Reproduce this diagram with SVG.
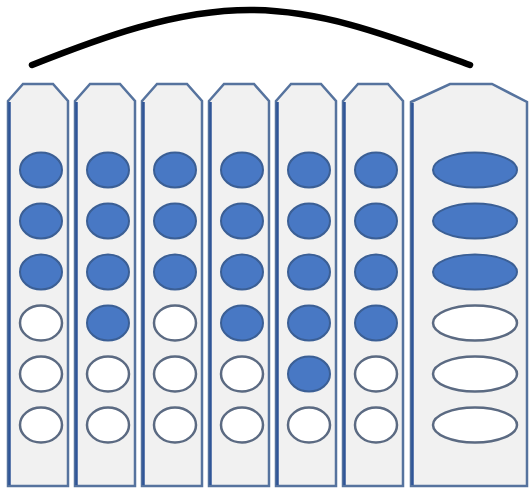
<svg xmlns="http://www.w3.org/2000/svg" width="531" height="490" viewBox="0 0 531 490">
<style>
.col{fill:#f1f1f1;stroke:#56739e;stroke-width:2.5;stroke-linejoin:miter}
.edge{stroke:#2f5597;stroke-width:2.5;fill:none}
.f{fill:#4878c4;stroke:#3b5f95;stroke-width:2}
.e{fill:#ffffff;stroke:#5b6a82;stroke-width:2.5}
</style>
<rect width="531" height="490" fill="#ffffff"/>
<g id="connectors">
<path d="M32,65 C100,38 175,10 250,10 C325,10 395,38 470,65" fill="none" stroke="#000" stroke-width="6.5" stroke-linecap="round"/>
</g>
<g id="col1">
<path class="col" d="M8,101 L23,84 L53,84 L68,101 L68,486 L8,486 Z"/><line class="edge" x1="9.5" y1="102" x2="9.5" y2="485"/>
<ellipse class="f" cx="41" cy="170" rx="21" ry="17.5"/><ellipse class="f" cx="41" cy="221" rx="21" ry="17.5"/><ellipse class="f" cx="41" cy="272" rx="21" ry="17.5"/>
<ellipse class="e" cx="41" cy="323" rx="21" ry="17.5"/><ellipse class="e" cx="41" cy="374" rx="21" ry="17.5"/><ellipse class="e" cx="41" cy="425" rx="21" ry="17.5"/>
</g>
<g id="col2">
<path class="col" d="M75,101 L90,84 L120,84 L135,101 L135,486 L75,486 Z"/><line class="edge" x1="76.5" y1="102" x2="76.5" y2="485"/>
<ellipse class="f" cx="108" cy="170" rx="21" ry="17.5"/><ellipse class="f" cx="108" cy="221" rx="21" ry="17.5"/><ellipse class="f" cx="108" cy="272" rx="21" ry="17.5"/>
<ellipse class="f" cx="108" cy="323" rx="21" ry="17.5"/><ellipse class="e" cx="108" cy="374" rx="21" ry="17.5"/><ellipse class="e" cx="108" cy="425" rx="21" ry="17.5"/>
</g>
<g id="col3">
<path class="col" d="M142,101 L157,84 L187,84 L202,101 L202,486 L142,486 Z"/><line class="edge" x1="143.5" y1="102" x2="143.5" y2="485"/>
<ellipse class="f" cx="175" cy="170" rx="21" ry="17.5"/><ellipse class="f" cx="175" cy="221" rx="21" ry="17.5"/><ellipse class="f" cx="175" cy="272" rx="21" ry="17.5"/>
<ellipse class="e" cx="175" cy="323" rx="21" ry="17.5"/><ellipse class="e" cx="175" cy="374" rx="21" ry="17.5"/><ellipse class="e" cx="175" cy="425" rx="21" ry="17.5"/>
</g>
<g id="col4">
<path class="col" d="M209,101 L224,84 L254,84 L269,101 L269,486 L209,486 Z"/><line class="edge" x1="210.5" y1="102" x2="210.5" y2="485"/>
<ellipse class="f" cx="242" cy="170" rx="21" ry="17.5"/><ellipse class="f" cx="242" cy="221" rx="21" ry="17.5"/><ellipse class="f" cx="242" cy="272" rx="21" ry="17.5"/>
<ellipse class="f" cx="242" cy="323" rx="21" ry="17.5"/><ellipse class="e" cx="242" cy="374" rx="21" ry="17.5"/><ellipse class="e" cx="242" cy="425" rx="21" ry="17.5"/>
</g>
<g id="col5">
<path class="col" d="M276,101 L291,84 L321,84 L336,101 L336,486 L276,486 Z"/><line class="edge" x1="277.5" y1="102" x2="277.5" y2="485"/>
<ellipse class="f" cx="309" cy="170" rx="21" ry="17.5"/><ellipse class="f" cx="309" cy="221" rx="21" ry="17.5"/><ellipse class="f" cx="309" cy="272" rx="21" ry="17.5"/>
<ellipse class="f" cx="309" cy="323" rx="21" ry="17.5"/><ellipse class="f" cx="309" cy="374" rx="21" ry="17.5"/><ellipse class="e" cx="309" cy="425" rx="21" ry="17.5"/>
</g>
<g id="col6">
<path class="col" d="M343,101 L358,84 L388,84 L403,101 L403,486 L343,486 Z"/><line class="edge" x1="344.5" y1="102" x2="344.5" y2="485"/>
<ellipse class="f" cx="376" cy="170" rx="21" ry="17.5"/><ellipse class="f" cx="376" cy="221" rx="21" ry="17.5"/><ellipse class="f" cx="376" cy="272" rx="21" ry="17.5"/>
<ellipse class="f" cx="376" cy="323" rx="21" ry="17.5"/><ellipse class="e" cx="376" cy="374" rx="21" ry="17.5"/><ellipse class="e" cx="376" cy="425" rx="21" ry="17.5"/>
</g>
<g id="col7">
<path class="col" d="M411,102 L450,84 L492,84 L527,102 L527,486 L411,486 Z"/><line class="edge" x1="412.5" y1="103" x2="412.5" y2="485"/>
<ellipse class="f" cx="475" cy="170" rx="42" ry="17.5"/><ellipse class="f" cx="475" cy="221" rx="42" ry="17.5"/><ellipse class="f" cx="475" cy="272" rx="42" ry="17.5"/>
<ellipse class="e" cx="475" cy="323" rx="42" ry="17.5"/><ellipse class="e" cx="475" cy="374" rx="42" ry="17.5"/><ellipse class="e" cx="475" cy="425" rx="42" ry="17.5"/>
</g>
</svg>
